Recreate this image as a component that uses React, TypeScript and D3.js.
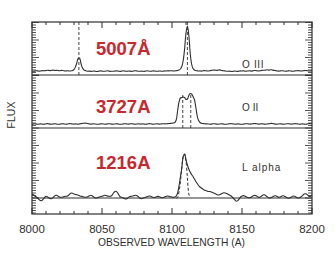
import React from "react";
import * as d3 from "d3";

// ---------- data ----------
const waveStart = 8000;
const waveEnd = 8200;
const waveGrid = d3.range(waveStart, waveEnd + 1, 1);

// [O III] panel flux (arbitrary units, 0 = panel base)
const o3Flux = [
  4.0,3.8,3.9,4.2,4.1,3.9,4.0,4.3,4.4,4.2,
  4.5,4.7,4.6,4.4,4.8,4.9,4.6,4.5,4.7,4.4,
  4.3,4.6,4.5,4.2,4.0,4.3,4.1,4.0,4.2,4.6,
  5.5,8.0,12.0,16.5,16.8,11.5,7.2,5.2,4.4,4.0,
  3.8,3.9,3.6,3.7,4.0,3.8,3.5,3.6,3.9,4.1,
  3.9,3.7,3.8,4.0,4.2,3.9,3.6,3.8,3.7,3.9,
  4.1,4.0,3.8,3.6,3.9,4.2,4.0,3.7,3.8,4.0,
  3.9,3.6,3.8,4.1,4.3,4.0,3.8,3.7,3.9,3.8,
  3.6,3.9,4.2,4.0,3.8,3.7,4.0,4.1,3.9,3.7,
  3.8,4.0,3.9,3.7,3.9,4.1,4.0,4.2,4.1,4.3,
  4.2,4.0,4.1,4.3,4.5,5.0,6.0,8.5,14.5,26.0,
  42.0,49.0,40.0,22.0,11.0,6.5,5.0,4.5,4.2,4.0,
  4.1,3.9,4.2,4.4,4.3,4.1,4.0,4.3,4.6,4.8,
  5.0,4.8,4.6,4.9,5.1,4.7,4.4,4.2,4.0,3.8,
  3.7,3.9,3.6,3.5,3.8,4.0,3.7,3.6,3.9,4.1,
  4.0,4.2,3.9,3.8,4.0,4.2,4.1,3.9,4.3,4.5,
  4.4,4.2,4.0,4.3,4.6,4.8,4.7,5.0,5.2,4.9,
  5.1,5.3,4.9,4.6,4.4,4.1,3.9,4.0,4.3,4.2,
  4.0,3.8,3.9,4.1,4.2,4.0,3.7,3.9,4.1,4.3,
  4.4,4.2,4.0,4.1,4.3,4.5,4.4,4.2,4.0,4.1,
  4.2,
];

// [O II] panel flux
const o2Flux = [
  3.8,4.0,4.2,3.9,3.7,3.9,4.1,4.0,3.8,3.9,
  4.2,4.4,4.1,3.9,3.8,4.0,4.3,4.1,3.8,3.7,
  3.9,4.1,4.3,4.0,3.8,3.9,4.2,4.4,4.2,4.0,
  3.9,4.1,4.0,3.8,4.1,4.4,4.6,4.8,4.9,4.7,
  4.4,4.1,3.9,4.0,4.2,4.0,3.8,3.7,3.9,4.1,
  4.2,4.0,3.8,3.9,4.1,4.3,4.1,3.9,3.8,4.0,
  4.2,4.1,3.9,3.7,3.8,4.0,4.3,4.2,4.0,3.9,
  4.1,4.3,4.1,3.9,3.8,4.0,4.2,4.0,3.9,4.1,
  4.0,3.8,3.9,4.2,4.4,4.2,3.9,3.8,4.0,4.2,
  4.1,3.9,4.0,4.2,4.3,4.1,4.2,4.4,4.5,4.6,
  4.8,5.0,5.5,8.0,17.0,26.0,30.0,30.5,31.0,30.5,
  28.5,29.0,32.5,34.5,34.0,31.5,28.5,21.0,12.0,7.5,
  5.5,4.8,4.5,4.3,4.1,4.2,4.0,3.8,3.9,4.1,
  4.3,4.1,3.9,3.8,4.0,4.2,4.1,3.9,3.7,3.8,
  4.0,4.2,4.4,4.2,4.0,3.8,3.9,4.1,4.0,3.8,
  3.7,3.9,4.1,4.3,4.2,4.0,3.9,4.1,4.3,4.5,
  4.3,4.1,3.9,4.0,4.2,4.1,3.9,3.8,4.0,4.2,
  4.4,4.6,4.4,4.1,3.9,3.8,4.0,4.2,4.1,3.9,
  3.8,4.0,4.2,4.3,4.1,3.9,4.0,4.2,4.4,4.2,
  4.0,3.8,3.9,4.1,4.0,3.8,3.9,4.2,4.4,4.3,
  4.1,
];

// Ly alpha panel flux (0 = continuum level)
const lyaFlux = [
  4.0,3.2,2.0,1.2,0.0,-1.5,-2.5,-2.6,-1.2,0.5,
  1.7,1.2,0.2,-0.5,-0.7,0.3,1.8,2.7,2.5,1.5,
  0.8,0.7,1.0,1.5,1.8,1.7,2.5,4.0,5.0,4.8,
  4.0,3.5,3.3,2.8,2.2,1.7,1.5,1.0,0.7,0.8,
  1.5,2.3,2.7,2.2,1.0,0.2,0.0,0.4,1.0,1.5,
  1.7,2.2,2.7,2.4,1.9,1.7,1.7,2.5,4.5,6.2,
  6.7,5.5,3.2,1.2,0.7,0.2,-0.5,-1.0,-0.5,0.6,
  1.4,1.7,2.0,2.4,2.7,2.3,1.2,0.0,-0.7,-0.3,
  0.3,0.7,1.2,1.8,2.0,1.5,0.9,0.5,0.8,1.3,
  1.6,1.2,0.6,0.3,0.6,1.2,1.8,2.0,1.6,1.2,
  1.0,0.6,0.9,1.8,5.0,12.0,21.0,30.0,41.0,44.0,
  38.0,33.0,29.0,26.0,23.5,21.5,19.0,16.5,14.5,12.5,
  11.0,10.0,9.0,8.0,7.5,7.0,6.5,6.5,6.0,5.5,
  5.0,4.2,3.5,3.0,3.2,4.0,4.8,5.2,5.0,4.5,
  3.8,3.0,2.2,1.0,-0.5,-2.0,-3.3,-2.5,-0.8,1.0,
  2.0,2.4,2.0,1.2,0.5,0.2,0.5,1.3,2.2,2.6,
  2.2,1.4,0.6,1.0,2.0,3.0,3.2,2.4,1.2,0.3,
  0.0,0.5,1.3,2.0,2.2,1.6,0.9,0.8,1.5,2.2,
  2.0,1.2,0.4,-0.2,0.0,0.8,1.6,2.0,1.5,0.6,
  0.0,0.3,1.0,2.2,3.5,4.2,4.0,2.8,1.5,1.8,
  3.0,
];

// Ly alpha model profile (dashed)
const lyaModelWave = [8103, 8104, 8105, 8106, 8107, 8108, 8109, 8110, 8111, 8112, 8113];
const lyaModelFlux = [0, 0.5, 6, 16, 30, 42, 44, 37, 20, 4, 0];

// marker wavelengths
const o3Markers = [8033.5, 8111.0];
const o2Markers = [8107.7, 8113.4];
const o2MarkerTop = 34;

const xTickMajor = [8000, 8050, 8100, 8150, 8200];
const xTickMinor = d3.range(8000, 8201, 10);

const panelLabels = ["5007Å", "3727A", "1216A"];
const lineNames = ["O III", "O II", "L alpha"];

// ---------- layout ----------
const W = 335;
const H = 263;
const left = 32;
const right = 312;
const top = 22;
const div1 = 75;
const div2 = 128;
const bottom = 214;

const ink = "#2f2f2f";

export default function App() {
  const x = d3.scaleLinear().domain([waveStart, waveEnd]).range([left, right]);
  const y1 = d3.scaleLinear().domain([0, 53]).range([div1, top]);
  const y2 = d3.scaleLinear().domain([0, 53]).range([div2, div1]);
  const y3 = d3.scaleLinear().domain([-16, 70]).range([bottom, div2]);

  const mkLine = (ys: d3.ScaleLinear<number, number>) =>
    d3
      .line<number>()
      .x((_, i) => x(waveGrid[i]))
      .y((d) => ys(d))
      .curve(d3.curveCatmullRom.alpha(0.5));

  const p1 = mkLine(y1)(o3Flux) || "";
  const p2 = mkLine(y2)(o2Flux) || "";
  const p3 = mkLine(y3)(lyaFlux) || "";
  const pm =
    d3
      .line<number>()
      .x((_, i) => x(lyaModelWave[i]))
      .y((d) => y3(d))
      .curve(d3.curveCatmullRom.alpha(0.5))(lyaModelFlux) || "";

  // y ticks for each panel
  const yTicks: { y: number; major: boolean }[] = [];
  const addYTicks = (ys: d3.ScaleLinear<number, number>, lo: number, hi: number) => {
    d3.range(lo, hi + 0.001, 2.5).forEach((v) => {
      const yy = ys(v);
      const major = Math.abs(v / 17.5 - Math.round(v / 17.5)) < 1e-6;
      yTicks.push({ y: yy, major });
    });
  };
  addYTicks(y1, 0, 52.5);
  addYTicks(y2, 2.5, 52.5);
  addYTicks(y3, -15, 70);

  const labelY = [55, 112.5, 168.5];
  const nameY = [67.5, 111, 171];
  const nameW = [21.6, 16.3, 38.3];

  return (
    <svg
      width={W}
      height={H}
      style={{ position: "absolute", left: 0, top: 0, background: "#fff" }}
      fontFamily="'Liberation Sans', Arial, Helvetica, sans-serif"
    >
      <rect x={0} y={0} width={W} height={H} fill="#fff" />

      {/* spectra */}
      <path d={p1} fill="none" stroke={ink} strokeWidth={1.1} />
      <path d={p2} fill="none" stroke={ink} strokeWidth={1.1} />
      <path d={p3} fill="none" stroke={ink} strokeWidth={1.1} />
      <path d={pm} fill="none" stroke={ink} strokeWidth={1} strokeDasharray="3,2" />

      {/* marker lines */}
      {o3Markers.map((w) => (
        <line key={"m1" + w} x1={x(w)} x2={x(w)} y1={top} y2={div1} stroke={ink} strokeWidth={0.9} strokeDasharray="3,2" />
      ))}
      {o2Markers.map((w) => (
        <line key={"m2" + w} x1={x(w)} x2={x(w)} y1={y2(0)} y2={y2(o2MarkerTop)} stroke={ink} strokeWidth={0.9} strokeDasharray="3,2" />
      ))}

      {/* dividers and zero line */}
      <line x1={left} x2={right} y1={div1} y2={div1} stroke={ink} strokeWidth={1} />
      <line x1={left} x2={right} y1={div2} y2={div2} stroke={ink} strokeWidth={1} />
      <line x1={left} x2={right} y1={y3(0)} y2={y3(0)} stroke={ink} strokeWidth={1} />

      {/* frame */}
      <rect x={left} y={top} width={right - left} height={bottom - top} fill="none" stroke={ink} strokeWidth={1.2} />

      {/* x ticks */}
      {xTickMinor.map((v) => {
        const major = xTickMajor.includes(v);
        const len = major ? 6 : 3;
        return (
          <g key={"xt" + v}>
            <line x1={x(v)} x2={x(v)} y1={bottom} y2={bottom - len} stroke={ink} strokeWidth={1} />
            <line x1={x(v)} x2={x(v)} y1={top} y2={top + len} stroke={ink} strokeWidth={1} />
          </g>
        );
      })}

      {/* y ticks */}
      {yTicks.map((t, i) => {
        const len = t.major ? 7 : 4;
        return (
          <g key={"yt" + i}>
            <line x1={left} x2={left + len} y1={t.y} y2={t.y} stroke={ink} strokeWidth={0.8} />
            <line x1={right} x2={right - len} y1={t.y} y2={t.y} stroke={ink} strokeWidth={0.8} />
          </g>
        );
      })}

      {/* x tick labels */}
      {xTickMajor.map((v) => (
        <text key={"xl" + v} x={x(v)} y={233} textAnchor="middle" fontSize={11.5} fill={ink}>
          {v}
        </text>
      ))}
      <text x={171.5} y={245.5} textAnchor="middle" fontSize={11.5} fill={ink} textLength={147} lengthAdjust="spacingAndGlyphs">
        OBSERVED WAVELENGTH (A)
      </text>
      <text transform="translate(14.5,115) rotate(-90)" textAnchor="middle" fontSize={10.5} fill={ink}>
        FLUX
      </text>

      {/* panel labels */}
      {panelLabels.map((s, i) => (
        <text key={"pl" + i} x={96} y={labelY[i]} fontSize={18.5} fontWeight="bold" fill="#c8282d">
          {s}
        </text>
      ))}
      {lineNames.map((s, i) => (
        <text key={"ln" + i} x={242} y={nameY[i]} fontSize={10} fill={ink} textLength={nameW[i]} lengthAdjust="spacing">
          {s}
        </text>
      ))}
    </svg>
  );
}
